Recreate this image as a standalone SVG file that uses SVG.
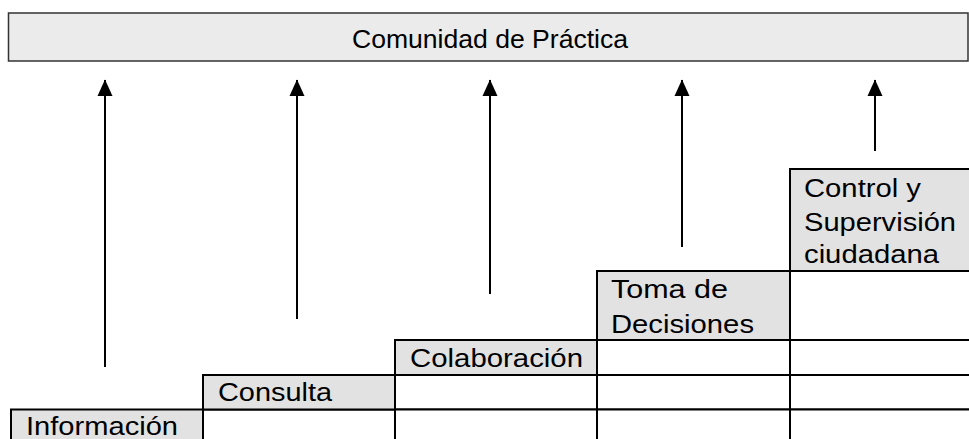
<svg xmlns="http://www.w3.org/2000/svg" width="969" height="439" viewBox="0 0 969 439">
<style>
.lbl{font-family:"Liberation Sans",Arial,sans-serif;font-size:26px;fill:#000}
.top{font-family:"Liberation Sans",Arial,sans-serif;font-size:25px;fill:#000}
.cell{fill:#e2e2e2;stroke:#000;stroke-width:2}
.blank{fill:#fff;stroke:#000;stroke-width:2}
.arr{stroke:#000;stroke-width:2;fill:none;marker-end:url(#ah)}
</style>
<defs>
<marker id="ah" markerUnits="userSpaceOnUse" markerWidth="17" markerHeight="16" refX="16" refY="8" orient="auto" viewBox="0 0 17 16">
<path d="M0,0.5 L16.5,8 L0,15.5 Z" fill="#000"/>
</marker>
</defs>
<rect width="969" height="439" fill="#fff"/>
<g id="comunidad">
<rect x="8.5" y="13" width="959.5" height="48" fill="#ebebeb" stroke="#333" stroke-width="1.5"/>
<text class="top" x="352" y="48" textLength="276" lengthAdjust="spacingAndGlyphs">Comunidad de Práctica</text>
</g>
<g id="grid">
<rect class="blank" x="203" y="409.5" width="192" height="40"/>
<rect class="blank" x="395" y="375" width="202" height="34.5"/>
<rect class="blank" x="395" y="409.5" width="202" height="40"/>
<rect class="blank" x="597" y="340" width="193" height="35"/>
<rect class="blank" x="597" y="375" width="193" height="34.5"/>
<rect class="blank" x="597" y="409.5" width="193" height="40"/>
<rect class="blank" x="790" y="271" width="190" height="69"/>
<rect class="blank" x="790" y="340" width="190" height="35"/>
<rect class="blank" x="790" y="375" width="190" height="34.5"/>
<rect class="blank" x="790" y="409.5" width="190" height="40"/>
</g>
<g id="informacion">
<rect class="cell" x="11" y="409.5" width="192" height="40"/>
<text class="lbl" x="26" y="435" textLength="152" lengthAdjust="spacingAndGlyphs">Información</text>
</g>
<g id="consulta">
<rect class="cell" x="203" y="375" width="192" height="34.5"/>
<text class="lbl" x="218" y="401" textLength="114" lengthAdjust="spacingAndGlyphs">Consulta</text>
</g>
<g id="colaboracion">
<rect class="cell" x="395" y="340" width="202" height="35"/>
<text class="lbl" x="410" y="367" textLength="173" lengthAdjust="spacingAndGlyphs">Colaboración</text>
</g>
<g id="toma">
<rect class="cell" x="597" y="271" width="193" height="69"/>
<text class="lbl" x="611" y="298" textLength="117" lengthAdjust="spacingAndGlyphs">Toma de</text>
<text class="lbl" x="611" y="333" textLength="143" lengthAdjust="spacingAndGlyphs">Decisiones</text>
</g>
<g id="control">
<rect class="cell" x="790" y="169" width="190" height="102"/>
<text class="lbl" x="804" y="197" textLength="117" lengthAdjust="spacingAndGlyphs">Control y</text>
<text class="lbl" x="804" y="231" textLength="152" lengthAdjust="spacingAndGlyphs">Supervisión</text>
<text class="lbl" x="804" y="263" textLength="135" lengthAdjust="spacingAndGlyphs">ciudadana</text>
</g>
<g id="connectors">
<line class="arr" x1="105" y1="367" x2="105" y2="80"/>
<line class="arr" x1="297" y1="319" x2="297" y2="80"/>
<line class="arr" x1="490" y1="294" x2="490" y2="80"/>
<line class="arr" x1="682" y1="247" x2="682" y2="80"/>
<line class="arr" x1="875" y1="151" x2="875" y2="80"/>
</g>
</svg>
